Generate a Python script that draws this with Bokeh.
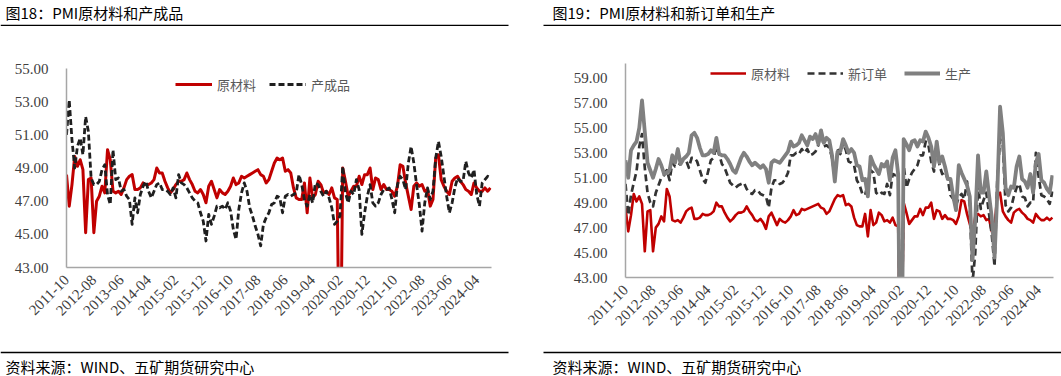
import math
from bokeh.plotting import figure
from bokeh.models import (Range1d, FixedTicker, NumeralTickFormatter, Legend, LegendItem,
                          Label, GlobalInlineStyleSheet)
from bokeh.layouts import row, column
from bokeh.embed import file_html
from bokeh.resources import INLINE

# ---------------- data (monthly, 2011-10 .. 2024-09) ----------------
raw_material = [
    48.6, 46.7, 48.0, 49.7, 49.1, 49.5, 48.9, 45.1, 48.3, 48.4,
    45.1, 47.0, 47.3, 47.9, 47.5, 50.1, 49.5, 47.6, 47.5, 47.6,
    47.4, 47.8, 48.3, 48.5, 48.6, 47.7, 47.7, 47.8, 48.1, 48.0,
    48.0, 48.1, 48.3, 49.0, 48.7, 48.7, 48.2, 47.8, 47.5, 47.7,
    48.0, 48.2, 48.2, 48.3, 48.7, 48.3, 48.0, 47.6, 47.5, 47.7,
    47.4, 46.9, 47.9, 48.2, 47.7, 47.2, 47.7, 47.5, 47.4, 47.6,
    47.9, 48.4, 48.0, 48.1, 48.5, 48.4, 48.5, 48.6, 48.7, 48.8,
    48.9, 48.6, 48.5, 48.1, 48.3, 48.8, 49.3, 49.6, 49.5, 49.6,
    48.8, 48.9, 48.7, 47.8, 47.2, 47.1, 47.1, 48.1, 46.3, 48.4,
    47.2, 47.4, 48.2, 48.0, 47.5, 47.6, 47.4, 47.8, 47.2, 47.1,
    33.9, 49.0, 48.2, 47.3, 47.6, 47.9, 47.9, 48.5, 48.0, 48.6,
    48.6, 49.0, 47.7, 48.4, 48.3, 47.7, 48.0, 47.7, 47.7, 47.6,
    47.3, 47.9, 49.2, 49.1, 48.1, 47.3, 46.5, 47.9, 48.1, 47.9,
    48.0, 47.6, 47.7, 46.7, 47.1, 49.6, 49.8, 48.3, 47.9, 47.6,
    47.4, 48.2, 48.4, 48.5, 48.2, 48.0, 47.7, 47.6, 47.4, 48.1,
    47.8, 47.6, 47.6, 47.8, 47.6, 47.8,
]

finished_goods = [
    51.0, 53.1, 50.7, 49.0, 50.3, 50.8, 49.8, 52.1, 51.2, 48.4,
    48.0, 48.0, 48.2, 48.9, 49.2, 47.4, 46.8, 50.1, 48.3, 48.4,
    47.6, 47.7, 47.3, 47.1, 45.6, 47.2, 46.3, 47.4, 47.9, 48.2,
    47.6, 47.2, 47.6, 48.0, 48.1, 47.7, 47.7, 47.6, 47.4, 47.8,
    47.2, 48.6, 48.1, 48.0, 47.8, 47.5, 47.2, 47.0, 46.9, 46.3,
    45.8, 44.6, 46.2, 45.6, 46.1, 46.7, 46.6, 46.7, 46.5, 46.9,
    46.4, 45.3, 44.7, 46.5, 47.5, 48.1, 47.6, 46.6, 46.1, 45.5,
    45.0, 44.3, 45.6, 46.0, 46.3, 46.8, 46.9, 47.3, 47.2, 46.3,
    47.3, 47.4, 47.3, 47.4, 47.5, 48.6, 48.0, 47.1, 46.7, 47.4,
    46.9, 48.1, 48.0, 47.6, 47.3, 47.6, 47.2, 46.6, 45.6, 45.8,
    46.1, 49.1, 47.5, 46.9, 47.6, 47.4, 48.3, 47.7, 45.0, 46.3,
    47.3, 48.0, 46.9, 46.7, 46.9, 47.4, 47.7, 47.7, 47.8, 47.1,
    46.3, 48.0, 48.5, 48.3, 47.7, 49.3, 50.3, 49.3, 48.0, 46.8,
    45.2, 46.9, 47.8, 47.1, 47.6, 49.6, 50.6, 49.7, 48.5, 47.3,
    46.3, 46.9, 47.8, 48.4, 48.2, 48.2, 49.4, 48.7, 48.4, 48.9,
    47.4, 46.7, 48.1, 48.3, 48.5, 48.4,
]

new_orders = [
    50.5, 48.0, 49.6, 50.6, 51.5, 53.5, 54.5, 51.8, 49.8, 49.0,
    48.7, 49.8, 50.4, 51.0, 51.2, 51.6, 50.8, 52.2, 51.9, 51.9,
    52.2, 52.4, 52.4, 51.8, 52.6, 52.6, 52.3, 51.6, 50.9, 50.6,
    51.5, 52.4, 52.6, 53.5, 52.9, 52.1, 51.8, 51.2, 50.6, 50.4,
    50.2, 50.4, 50.5, 50.6, 50.1, 49.8, 49.7, 50.0, 50.0, 49.7,
    49.6, 49.5, 48.6, 50.2, 50.8, 50.8, 50.5, 50.6, 50.9, 51.4,
    52.8, 52.8, 53.0, 52.9, 53.3, 53.0, 53.3, 52.8, 52.9, 53.1,
    53.6, 54.8, 53.5, 53.6, 53.4, 52.6, 51.0, 53.3, 52.9, 53.8,
    53.2, 52.3, 52.2, 52.0, 50.8, 50.4, 49.7, 49.6, 50.6, 51.6,
    51.4, 49.8, 49.6, 49.8, 49.7, 50.5, 49.6, 51.3, 51.2, 51.4,
    29.3, 52.0, 50.2, 50.9, 51.4, 51.7, 52.0, 52.8, 52.8, 53.9,
    53.6, 52.3, 51.5, 53.6, 52.0, 51.3, 51.5, 50.9, 49.6, 49.3,
    48.8, 49.4, 49.7, 49.3, 50.7, 48.8, 42.6, 45.0, 50.4, 48.5,
    49.2, 49.8, 48.1, 46.4, 43.9, 50.9, 54.1, 53.6, 48.8, 48.3,
    48.6, 49.5, 50.2, 50.5, 49.5, 49.4, 48.7, 49.0, 49.0, 53.0,
    51.1, 49.6, 49.5, 49.3, 48.9, 49.9,
]

production = [
    52.4, 51.0, 53.2, 53.6, 53.9, 55.0, 57.2, 54.7, 52.2, 51.6,
    51.0, 51.7, 52.5, 52.0, 51.3, 51.4, 51.6, 52.8, 52.2, 53.3,
    52.1, 52.5, 52.7, 53.0, 54.4, 54.6, 54.2, 53.4, 52.8, 52.8,
    52.9, 53.2, 53.0, 54.2, 52.9, 52.8, 52.8, 52.5, 52.1, 51.6,
    51.4, 52.0, 52.6, 53.0, 52.7, 52.3, 52.0, 52.2, 52.0, 51.8,
    52.0, 51.7, 50.6, 52.2, 52.4, 52.3, 52.2, 52.5, 52.8, 53.1,
    53.9, 53.5, 53.6, 53.8, 54.4, 54.0, 53.6, 54.3, 54.1, 54.5,
    53.7, 54.8, 53.8, 54.2, 54.0, 52.8, 50.7, 53.1, 53.1, 54.1,
    53.6, 53.0, 53.3, 53.0, 52.0, 51.9, 50.8, 50.9, 49.5, 52.7,
    52.1, 51.7, 51.3, 52.1, 51.9, 52.3, 50.8, 52.6, 53.2, 51.3,
    27.8, 54.1, 53.7, 53.2, 53.9, 54.0, 53.5, 54.0, 53.9, 54.7,
    54.2, 53.5, 51.9, 53.9, 52.2, 52.7, 51.9, 50.9, 50.9, 49.5,
    48.4, 52.0, 51.4, 50.9, 50.4, 49.5, 44.4, 47.7, 52.8, 49.8,
    49.8, 51.5, 49.6, 47.8, 44.6, 49.8, 56.7, 54.6, 50.2, 49.6,
    50.3, 50.2, 51.9, 52.7, 50.9, 50.7, 50.2, 51.3, 49.8, 52.2,
    52.9, 50.8, 50.6, 50.1, 49.8, 51.2,
]

tick_labels = ["2011-10", "2012-08", "2013-06", "2014-04", "2015-02", "2015-12",
               "2016-10", "2017-08", "2018-06", "2019-04", "2020-02", "2020-12",
               "2021-10", "2022-08", "2023-06", "2024-04"]

N = len(raw_material)
months = [f"{2011 + (9 + i) // 12}-{(9 + i) % 12 + 1:02d}" for i in range(N)]
idx = list(range(N))
tick_pos = [months.index(t) for t in tick_labels]

RED = "#C00000"
AXIS_GRAY = "#a6a6a6"
TICK_FONT = "Liberation Serif"
CJK = "Noto Sans CJK SC"
SOURCE = "资料来源：WIND、五矿期货研究中心"
TITLES = ["图18：PMI原材料和产成品", "图19：PMI原材料和新订单和生产"]

W = 1061
CH = 334        # chart row: page y 26 .. 360
FOOT_H = 34     # footer: page y 342 .. 376 (pulled up by 14px)


def base_fig(width, left, right, top, bottom, ymin, ymax, ytop):
    p = figure(width=width, height=CH, output_backend="svg", toolbar_location=None,
               x_range=Range1d(0, N - 0.6), y_range=Range1d(ymin, ymax),
               min_border_left=left, min_border_right=right,
               min_border_top=top, min_border_bottom=bottom)
    if "frame_align" in p.properties():
        p.frame_align = False
    p.xgrid.visible = False
    p.ygrid.visible = False
    p.outline_line_color = None
    p.xaxis.ticker = FixedTicker(ticks=tick_pos)
    p.xaxis.major_label_overrides = {pos: lab for pos, lab in zip(tick_pos, tick_labels)}
    p.xaxis.major_label_orientation = math.pi / 4
    p.yaxis.ticker = FixedTicker(ticks=list(range(43, ytop + 1, 2)))
    p.yaxis.formatter = NumeralTickFormatter(format="0.00")
    for ax in (p.xaxis[0], p.yaxis[0]):
        ax.major_tick_line_color = None
        ax.minor_tick_line_color = None
        ax.major_tick_out = 0
        ax.major_tick_in = 0
        ax.minor_tick_out = 0
        ax.axis_line_color = AXIS_GRAY
        ax.axis_line_width = 1.5
        ax.major_label_text_font = TICK_FONT
        ax.major_label_text_font_size = "15px"
        ax.major_label_text_color = "#404040"
    p.yaxis.major_label_standoff = 18
    p.xaxis.major_label_standoff = 10
    return p


def strip_fig(height, texts, text_y, rule_y, margin=None):
    # header / footer band: panel titles or source notes plus the black rules
    s = figure(width=W, height=height, output_backend="svg", toolbar_location=None,
               x_range=Range1d(0, W), y_range=Range1d(0, height),
               x_axis_type=None, y_axis_type=None, min_border=0)
    if margin is not None:
        s.margin = margin
    s.outline_line_color = None
    s.border_fill_alpha = 0
    s.background_fill_alpha = 0
    s.segment(x0=[0, 543], x1=[508, W], y0=[rule_y, rule_y], y1=[rule_y, rule_y],
              line_color="black", line_width=1.5)
    for tx, txt in zip([5, 552], texts):
        s.add_layout(Label(x=tx, y=text_y, text=txt, text_font=CJK, text_font_size="15px",
                           text_color="black", text_baseline="middle", text_align="left"))
    return s


header = strip_fig(26, TITLES, 14, 1)
footer = strip_fig(FOOT_H, [SOURCE, SOURCE], 14, 28, margin=(-14, 0, 0, 0))

# ---------------- left panel (frame: x 66..491, y 68..267) ----------------
pl = base_fig(540, 66, 49, 42, CH + 26 - 267, 43, 55, 55)
r1 = pl.line(idx, raw_material, line_color=RED, line_width=3, line_join="round")
r2 = pl.line(idx, finished_goods, line_color="#1f1f1f", line_width=2.8, line_dash="6 3",
             line_join="round")
legl = Legend(items=[LegendItem(label="原材料", renderers=[r1]),
                     LegendItem(label="产成品", renderers=[r2])],
              location=(109, 173), orientation="horizontal", glyph_width=37, glyph_height=20,
              label_standoff=5, spacing=13, padding=0, margin=0, border_line_color=None,
              background_fill_alpha=0, label_text_font=CJK, label_text_font_size="13px",
              label_text_color="#595959")
pl.add_layout(legl)

# ---------------- right panel (frame: x 625..1053, y 63..277) ----------------
pr = base_fig(521, 85, 8, 37, CH + 26 - 277, 43, 60.16, 59)
s1 = pr.line(idx, raw_material, line_color=RED, line_width=2.6, line_join="round")
s2 = pr.line(idx, new_orders, line_color="#333333", line_width=2.7, line_dash="7 4",
             line_join="round")
s3 = pr.line(idx, production, line_color="#808080", line_width=3.8, line_join="round")
legr = Legend(items=[LegendItem(label="原材料", renderers=[s1]),
                     LegendItem(label="新订单", renderers=[s2]),
                     LegendItem(label="生产", renderers=[s3])],
              location=(85, 194), orientation="horizontal", glyph_width=36, glyph_height=20,
              label_standoff=5, spacing=17, padding=0, margin=0, border_line_color=None,
              background_fill_alpha=0, label_text_font=CJK, label_text_font_size="13px",
              label_text_color="#595959")
pr.add_layout(legr)

layout = column(header, row(pl, pr), footer,
                stylesheets=[GlobalInlineStyleSheet(css="html, body {margin:0 !important; padding:0; overflow:hidden;}")])

open("out.html", "w").write(file_html(layout, INLINE))
